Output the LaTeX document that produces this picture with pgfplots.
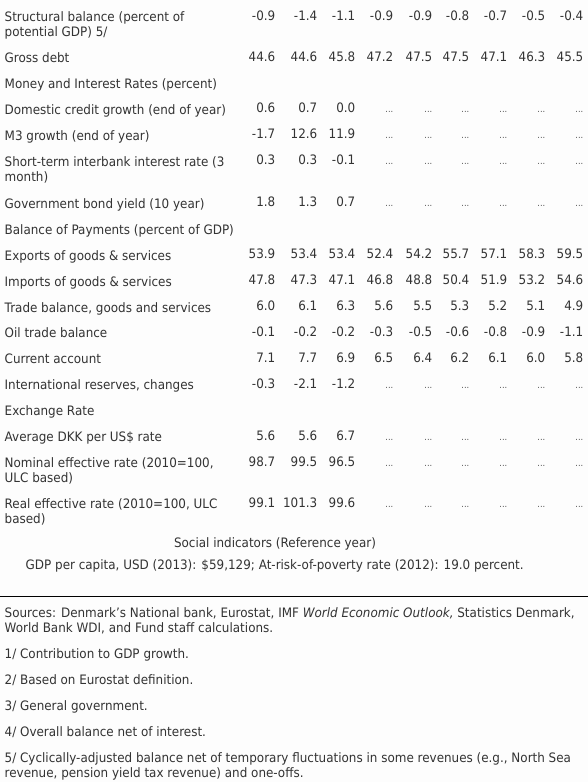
\documentclass[border=0pt]{standalone}
\usepackage{pgfplots}
\pgfplotsset{compat=1.18}
\usepackage{pgfplotstable}
\usepackage{fontspec}
\setmainfont{DejaVu Sans}[FakeStretch=0.92]
\definecolor{txt}{HTML}{333333}
\definecolor{bg}{HTML}{FDFDFD}

% numeric cells: x = right edge of column, y = baseline (pixels from top)
\pgfplotstableread{
x y v
275 20 -0.9
317 20 -1.4
355 20 -1.1
393 20 -0.9
432 20 -0.9
469 20 -0.8
507 20 -0.7
545 20 -0.5
583 20 -0.4
275 61.2 44.6
317 61.2 44.6
355 61.2 45.8
393 61.2 47.2
432 61.2 47.5
469 61.2 47.5
507 61.2 47.1
545 61.2 46.3
583 61.2 45.5
275 112.8 0.6
317 112.8 0.7
355 112.8 0.0
275 138.5 -1.7
317 138.5 12.6
355 138.5 11.9
275 164.5 0.3
317 164.5 0.3
355 164.5 -0.1
275 206.5 1.8
317 206.5 1.3
355 206.5 0.7
275 258.5 53.9
317 258.5 53.4
355 258.5 53.4
393 258.5 52.4
432 258.5 54.2
469 258.5 55.7
507 258.5 57.1
545 258.5 58.3
583 258.5 59.5
275 284.5 47.8
317 284.5 47.3
355 284.5 47.1
393 284.5 46.8
432 284.5 48.8
469 284.5 50.4
507 284.5 51.9
545 284.5 53.2
583 284.5 54.6
275 310.5 6.0
317 310.5 6.1
355 310.5 6.3
393 310.5 5.6
432 310.5 5.5
469 310.5 5.3
507 310.5 5.2
545 310.5 5.1
583 310.5 4.9
275 336 -0.1
317 336 -0.2
355 336 -0.2
393 336 -0.3
432 336 -0.5
469 336 -0.6
507 336 -0.8
545 336 -0.9
583 336 -1.1
275 362 7.1
317 362 7.7
355 362 6.9
393 362 6.5
432 362 6.4
469 362 6.2
507 362 6.1
545 362 6.0
583 362 5.8
275 388 -0.3
317 388 -2.1
355 388 -1.2
275 440 5.6
317 440 5.6
355 440 6.7
275 466 98.7
317 466 99.5
355 466 96.5
275 507 99.1
317 507 101.3
355 507 99.6
}\numtab

% cells shown as "..." (no data)
\pgfplotstableread{
x y
393 112.8
432 112.8
469 112.8
507 112.8
545 112.8
583 112.8
393 138.5
432 138.5
469 138.5
507 138.5
545 138.5
583 138.5
393 164.5
432 164.5
469 164.5
507 164.5
545 164.5
583 164.5
393 206.5
432 206.5
469 206.5
507 206.5
545 206.5
583 206.5
393 388
432 388
469 388
507 388
545 388
583 388
393 440
432 440
469 440
507 440
545 440
583 440
393 466
432 466
469 466
507 466
545 466
583 466
393 507
432 507
469 507
507 507
545 507
583 507
}\natab

\begin{document}
\begin{tikzpicture}[
  lbl/.style={anchor=base west, inner sep=0pt, font=\fontsize{13}{15}\selectfont, text=txt},
  ctr/.style={anchor=base, inner sep=0pt, font=\fontsize{13}{15}\selectfont, text=txt}]
\begin{axis}[
  width=587pt, height=782pt, scale only axis,
  xmin=0, xmax=587, ymin=0, ymax=782, y dir=reverse,
  axis line style={draw=none}, ticks=none,
  axis background/.style={fill=bg},
  clip=false]
\addplot[only marks, mark=none, point meta=explicit symbolic,
  nodes near coords={\pgfplotspointmeta},
  nodes near coords style={anchor=base east, inner sep=0pt,
    font=\fontsize{13}{15}\selectfont, text=txt}]
  table[x=x, y=y, meta=v] {\numtab};
\addplot[only marks, mark=none,
  nodes near coords={...},
  nodes near coords style={anchor=base east, inner sep=0pt,
    font=\fontsize{9}{9}\selectfont, text=txt!85}]
  table[x=x, y=y] {\natab};

\node[lbl] at (axis cs:4,21.5) {Structural balance (percent of};
\node[lbl] at (axis cs:4,36.7) {potential GDP) 5/};
\node[lbl] at (axis cs:4,62.7) {Gross debt};
\node[lbl] at (axis cs:4,88.3) {Money and Interest Rates (percent)};
\node[lbl] at (axis cs:4,114.3) {Domestic credit growth (end of year)};
\node[lbl] at (axis cs:4,140) {M3 growth (end of year)};
\node[lbl] at (axis cs:4,166) {Short-term interbank interest rate (3};
\node[lbl] at (axis cs:4,181.7) {month)};
\node[lbl] at (axis cs:4,208) {Government bond yield (10 year)};
\node[lbl] at (axis cs:4,234) {Balance of Payments (percent of GDP)};
\node[lbl] at (axis cs:4,260) {Exports of goods \& services};
\node[lbl] at (axis cs:4,286) {Imports of goods \& services};
\node[lbl] at (axis cs:4,312) {Trade balance, goods and services};
\node[lbl] at (axis cs:4,337.5) {Oil trade balance};
\node[lbl] at (axis cs:4,363.5) {Current account};
\node[lbl] at (axis cs:4,389.5) {International reserves, changes};
\node[lbl] at (axis cs:4,415.5) {Exchange Rate};
\node[lbl] at (axis cs:4,441.5) {Average DKK per US\$ rate};
\node[lbl] at (axis cs:4,467.3) {Nominal effective rate (2010=100,};
\node[lbl] at (axis cs:4,482.7) {ULC based)};
\node[lbl] at (axis cs:4,508.3) {Real effective rate (2010=100, ULC};
\node[lbl] at (axis cs:4,523.3) {based)};
\node[ctr] at (axis cs:274.5,547.7) {Social indicators (Reference year)};
\node[ctr] at (axis cs:274.2,569.3) {GDP per capita, USD (2013): \$59,129; At-risk-of-poverty rate (2012): 19.0 percent.};
\draw[black, line width=1pt] (axis cs:0,596.7) -- (axis cs:587,596.7);
\node[lbl] at (axis cs:4,617.3) {Sources: Denmark’s National bank, Eurostat, IMF \textit{World Economic Outlook,} Statistics Denmark,};
\node[lbl] at (axis cs:4,632.3) {World Bank WDI, and Fund staff calculations.};
\node[lbl] at (axis cs:4,658.3) {1/ Contribution to GDP growth.};
\node[lbl] at (axis cs:4,684.3) {2/ Based on Eurostat definition.};
\node[lbl] at (axis cs:4,710) {3/ General government.};
\node[lbl] at (axis cs:4,736) {4/ Overall balance net of interest.};
\node[lbl] at (axis cs:4,762.7) {5/ Cyclically-adjusted balance net of temporary fluctuations in some revenues (e.g., North Sea};
\node[lbl] at (axis cs:4,777.3) {revenue, pension yield tax revenue) and one-offs.};
\end{axis}
\end{tikzpicture}
\end{document}
